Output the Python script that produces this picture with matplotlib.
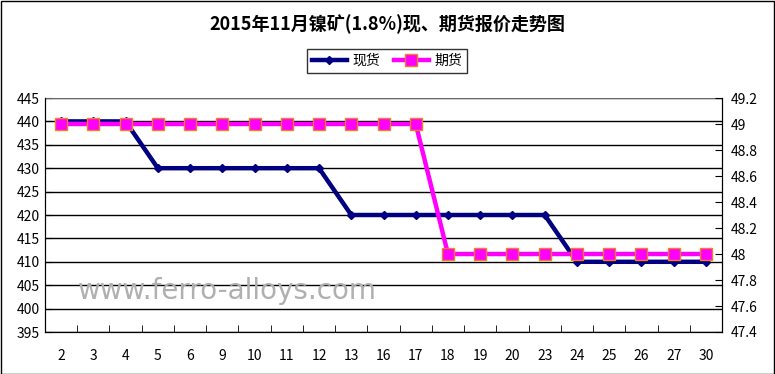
import matplotlib
matplotlib.use("Agg")
import matplotlib.pyplot as plt
from matplotlib.ticker import MultipleLocator, FixedLocator

plt.rcParams['font.family'] = ['Noto Sans CJK SC', 'DejaVu Sans']

days = ['2', '3', '4', '5', '6', '9', '10', '11', '12', '13', '16', '17',
        '18', '19', '20', '23', '24', '25', '26', '27', '30']
spot = [440, 440, 440, 430, 430, 430, 430, 430, 430, 420, 420, 420,
        420, 420, 420, 420, 410, 410, 410, 410, 410]
futures = [49, 49, 49, 49, 49, 49, 49, 49, 49, 49, 49, 49,
           48, 48, 48, 48, 48, 48, 48, 48, 48]

fig = plt.figure(figsize=(7.75, 3.74), dpi=100)
W, H = 775, 374
ax = fig.add_axes([45 / W, 1 - 332 / H, (722 - 45) / W, (332 - 98) / H])
ax2 = ax.twinx()

x = list(range(len(days)))
l1, = ax.plot(x, spot, color='#000080', lw=3.2, marker='D', ms=4.5,
              mfc='#000080', mec='#000080', zorder=3, label='现货')
l2, = ax2.plot(x, futures, color='#FF00FF', lw=3.2, marker='s', ms=8,
               mfc='#FF00FF', mec='#F08020', mew=1.0, zorder=4, label='期货')

ax.set_xlim(-0.5, len(days) - 0.5)
ax.set_ylim(395, 445)
ax2.set_ylim(47.4, 49.2)
ax.yaxis.set_major_locator(MultipleLocator(5))
ax2.yaxis.set_major_locator(MultipleLocator(0.2))
ax2.set_yticklabels([f'{v:g}' for v in ax2.get_yticks()])

ax.set_xticks(x)
ax.set_xticklabels(days)
ax.xaxis.set_minor_locator(FixedLocator([i + 0.5 for i in range(-1, len(days))]))
ax.tick_params(axis='x', which='major', length=0, pad=12, labelsize=10)
ax.tick_params(axis='x', which='minor', length=5, direction='in', color='black')
ax.tick_params(axis='y', length=5, direction='in', labelsize=10, pad=4)
ax2.tick_params(axis='y', length=5, direction='in', labelsize=10, pad=6)

ax.grid(axis='y', color='black', lw=1.0)
ax.axhline(445, color='#808080', lw=1.2, zorder=2.5)
ax.set_axisbelow(True)

for sp in ['left', 'right', 'bottom']:
    ax.spines[sp].set_color('black')
    ax2.spines[sp].set_color('black')
ax.spines['top'].set_visible(False)
ax2.spines['top'].set_visible(False)

ax2.set_zorder(ax.get_zorder() + 1)
ax2.patch.set_visible(False)

fig.text(0.5, 1 - 24 / H, '2015年11月镍矿(1.8%)现、期货报价走势图',
         ha='center', va='center', fontsize=13, fontweight='bold')

leg = fig.legend([l1, l2], ['现货', '期货'], loc='center',
                 bbox_to_anchor=(387 / W, 1 - 61 / H), ncol=2, frameon=True,
                 fancybox=False, edgecolor='black', fontsize=10,
                 handlelength=2.5, columnspacing=1.0, handletextpad=0.4,
                 borderpad=0.35)
leg.get_frame().set_linewidth(1.0)

fig.text(78 / W, 1 - 291 / H, 'www.ferro-alloys.com', fontsize=20,
         color='#B0B0B0', ha='left', va='center', family='DejaVu Sans', zorder=10)

border = plt.Rectangle((0.5 / W, 0.5 / H), 1 - 1.5 / W, 1 - 1.5 / H,
                       transform=fig.transFigure, fill=False,
                       edgecolor='black', lw=1.0)
fig.patches.append(border)

fig.savefig('out.png', dpi=100)
